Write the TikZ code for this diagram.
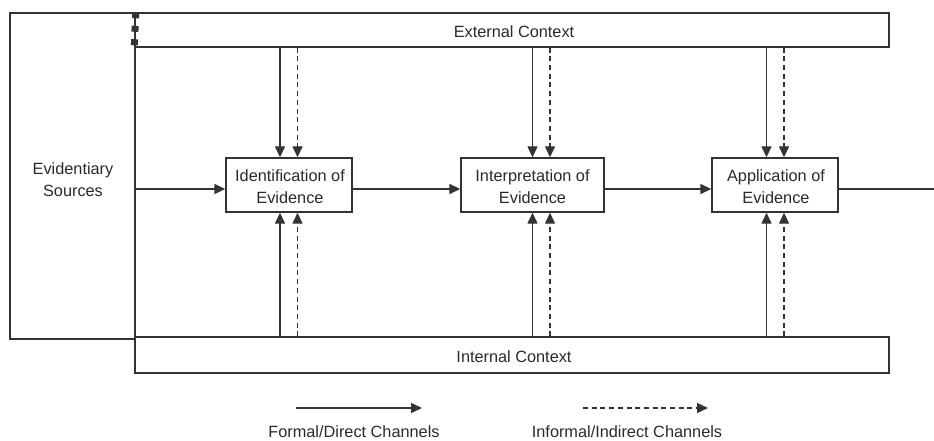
\documentclass[tikz,border=0pt]{standalone}
\usepackage{fontspec}
\setmainfont{Liberation Sans}
\usetikzlibrary{arrows.meta}
\definecolor{ln}{HTML}{333333}
\definecolor{tx}{HTML}{2A2A2A}
\begin{document}
\begin{tikzpicture}[x=1pt,y=-1pt,
  every node/.style={font=\fontsize{16.3}{22}\selectfont, text=tx, inner sep=0pt, align=center},
  boxst/.style={draw=ln, line width=1.4pt, fill=white},
  solidarr/.style={draw=ln, line width=1.4pt, -{Triangle[length=11pt,width=10pt]}},
  dasharr/.style={draw=ln, line width=1.4pt, dash pattern=on 5pt off 3.7pt, -{Triangle[length=11pt,width=10pt]}},
  plainln/.style={draw=ln, line width=1.4pt}]
\useasboundingbox (0,0) rectangle (934,441);
% Evidentiary sources frame
\node[boxst, fill=none, minimum width=125pt, minimum height=326pt] (src) at (72.5,176) {};
\node (srclabel) at (73,180) {Evidentiary\\Sources};
% context boxes
\node[boxst, minimum width=754pt, minimum height=34pt] (ext) at (512,30) {};
\node (extlabel) at (514,32) {External Context};
\node[boxst, minimum width=754pt, minimum height=36pt] (int) at (512,355) {};
\node (intlabel) at (514,357) {Internal Context};
% thick dashes on frame edge
\draw[ln, line width=7pt, dash pattern=on 6pt off 7.5pt] (src.north east) -- (ext.south west);
% process boxes
\node[boxst, minimum width=126pt, minimum height=54pt] (ident) at (289,185) {};
\node (identlabel) at (290,187) {Identification of\\Evidence};
\node[boxst, minimum width=143pt, minimum height=54pt] (interp) at (532.5,185) {};
\node (interplabel) at (532.5,187) {Interpretation of\\Evidence};
\node[boxst, minimum width=126pt, minimum height=54pt] (appl) at (775,185) {};
\node (appllabel) at (776,187) {Application of\\Evidence};
% horizontal flow
\coordinate (ay) at (0,189);
\coordinate (rend) at (934,189);
\draw[solidarr] (src.east |- ay) -- (ident.west |- ay);
\draw[solidarr] (ident.east |- ay) -- (interp.west |- ay);
\draw[solidarr] (interp.east |- ay) -- (appl.west |- ay);
\draw[plainln] (appl.east |- ay) -- (rend);
% vertical channels
\coordinate (s1) at (280,0); \coordinate (d1) at (297.5,0);
\coordinate (s2) at (532.5,0); \coordinate (d2) at (550,0);
\coordinate (s3) at (766.5,0); \coordinate (d3) at (784,0);
\foreach \s/\d/\b in {s1/d1/ident, s2/d2/interp, s3/d3/appl}{
  \draw[solidarr] (\s |- ext.south) -- (\s |- \b.north);
  \draw[dasharr] (\d |- ext.south) -- (\d |- \b.north);
  \draw[solidarr] (\s |- int.north) -- (\s |- \b.south);
  \draw[dasharr] (\d |- int.north) -- (\d |- \b.south);
}
% legend
\coordinate (la) at (296,408); \coordinate (lb) at (422,408);
\coordinate (lc) at (583,408); \coordinate (ld) at (708,408);
\draw[solidarr] (la) -- (lb);
\draw[dasharr] (lc) -- (ld);
\node (formal) at (354,432) {Formal/Direct Channels};
\node (informal) at (627,432) {Informal/Indirect Channels};
\end{tikzpicture}
\end{document}
